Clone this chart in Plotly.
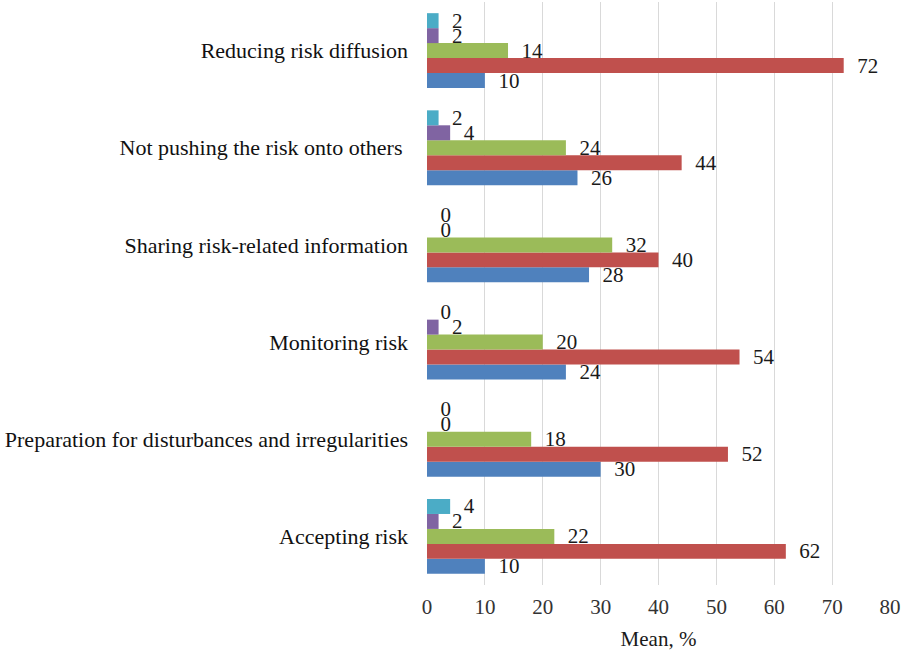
import plotly.graph_objects as go

# Risk-management practices (bottom to top on the chart)
categories = [
    "Accepting risk",
    "Preparation for disturbances and irregularities",
    "Monitoring risk",
    "Sharing risk-related information",
    "Not pushing the risk onto others\u00a0",
    "Reducing risk diffusion",
]

# Mean shares (%) for each response series, same order as categories
series_blue = [10, 30, 24, 28, 26, 10]
series_red = [62, 52, 54, 40, 44, 72]
series_green = [22, 18, 20, 32, 24, 14]
series_purple = [2, 0, 2, 0, 4, 2]
series_cyan = [4, 0, 0, 0, 2, 2]

x_ticks = [0, 10, 20, 30, 40, 50, 60, 70, 80]

series = [
    ("blue", series_blue, "#4F81BD"),
    ("red", series_red, "#C0504D"),
    ("green", series_green, "#9BBB59"),
    ("purple", series_purple, "#8064A2"),
    ("cyan", series_cyan, "#4BACC6"),
]

FONT = "Liberation Serif, Times New Roman, serif"

fig = go.Figure()
for name, vals, color in series:
    fig.add_trace(go.Bar(
        name=name,
        y=categories,
        x=vals,
        orientation="h",
        marker=dict(color=color, line=dict(width=0)),
        text=vals,
        texttemplate="\u00a0\u00a0%{x}",
        textposition="outside",
        constraintext="none",
        cliponaxis=False,
        textfont=dict(family=FONT, size=21, color="#1a1a1a"),
    ))

fig.update_layout(
    barmode="group",
    bargap=0.23,
    bargroupgap=0,
    showlegend=False,
    width=907,
    height=656,
    margin=dict(l=427, r=17, t=2, b=71),
    plot_bgcolor="white",
    paper_bgcolor="white",
    font=dict(family=FONT, size=21, color="#1a1a1a"),
    xaxis=dict(
        range=[0, 80],
        tickvals=x_ticks,
        showgrid=True,
        gridcolor="#d9d9d9",
        gridwidth=1,
        zeroline=False,
        showline=False,
        ticks="",
        ticklabelstandoff=7,
        tickfont=dict(family=FONT, size=21, color="#333333"),
        title=dict(text="Mean, %", font=dict(family=FONT, size=21, color="#1a1a1a"), standoff=13),
    ),
    yaxis=dict(
        categoryorder="array",
        categoryarray=categories,
        showgrid=False,
        zeroline=False,
        showline=False,
        ticks="",
        ticklabelstandoff=18,
        tickfont=dict(family=FONT, size=22, color="#111111"),
    ),
)

fig.write_html("out.html")
